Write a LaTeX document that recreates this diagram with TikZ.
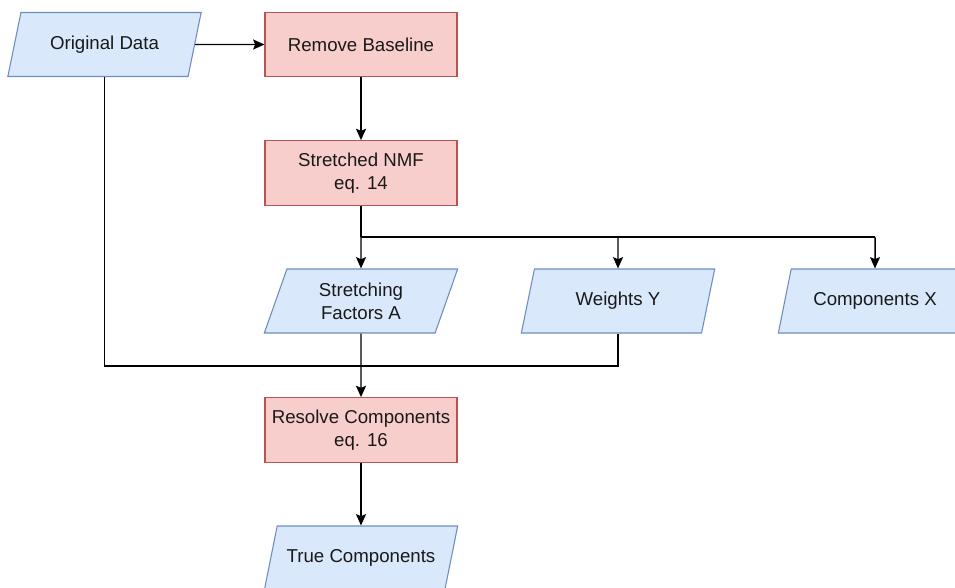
\documentclass[tikz,border=0pt]{standalone}
\usepackage{fontspec}
\setmainfont{Liberation Sans}
\usetikzlibrary{shapes.geometric,arrows.meta,positioning}

\definecolor{procfill}{HTML}{F8CECC}
\definecolor{procline}{HTML}{B85450}
\definecolor{datafill}{HTML}{DAE8FC}
\definecolor{dataline}{HTML}{6C8EBF}

\tikzset{
  x=0.75pt, y=-0.75pt,
  every node/.style={font=\fontsize{14}{17}\selectfont, text=black!90, align=center},
  procbox/.style={draw=procline, fill=procfill, rectangle, minimum width=144pt, minimum height=48.5pt, line width=0.8pt},
  databox/.style={draw=dataline, fill=datafill, trapezium, trapezium left angle=63.5, trapezium right angle=116.5,
    trapezium stretches body=true, minimum width=145pt, minimum height=48pt, line width=0.8pt},
  wire/.style={line width=1.1pt},
  flow/.style={wire, -{Stealth[length=8.5pt,width=7.5pt,inset=1.5pt]}},
}

\begin{document}
\begin{tikzpicture}
    \useasboundingbox (0,0) rectangle (955,587);
    \clip (0,0) rectangle (955,587);
    %% Input and preprocessing
    \node[databox] (orig) at (104.5,44.5) {Original Data};
    \node[procbox] (baseline) at (361,44.5) {Remove Baseline};
    \node[procbox] (nmf) at (361,173) {Stretched NMF\\eq. 14};
    %% Factorisation results
    \node[databox] (stretch) at (361,301) {Stretching\\Factors A};
    \node[databox] (weights) at (618,301) {Weights Y};
    \node[databox] (comps) at (875,301) {Components X};
    %% Resolution
    \node[procbox] (resolve) at (361,430) {Resolve Components\\eq. 16};
    \node[databox] (truecomp) at (361,558) {True Components};
    %% Branch and join points
    \coordinate (split) at (361,237);
    \coordinate (join) at (361,366);
    %% Connections
    \draw[flow] (orig.east) -- (baseline.west);
    \draw[flow] (baseline) -- (nmf);
    \draw[wire] (nmf.south) -- (split);
    \draw[wire] (split) -- (split -| comps);
    \draw[flow] (split) -- (stretch.north);
    \draw[flow] (split -| weights) -- (weights.north);
    \draw[flow] (split -| comps) -- (comps.north);
    \draw[wire] (orig.south) |- (join);
    \draw[wire] (weights.south) |- (join);
    \draw[flow] (stretch.south) -- (resolve.north);
    \draw[flow] (resolve) -- (truecomp);
\end{tikzpicture}
\end{document}
